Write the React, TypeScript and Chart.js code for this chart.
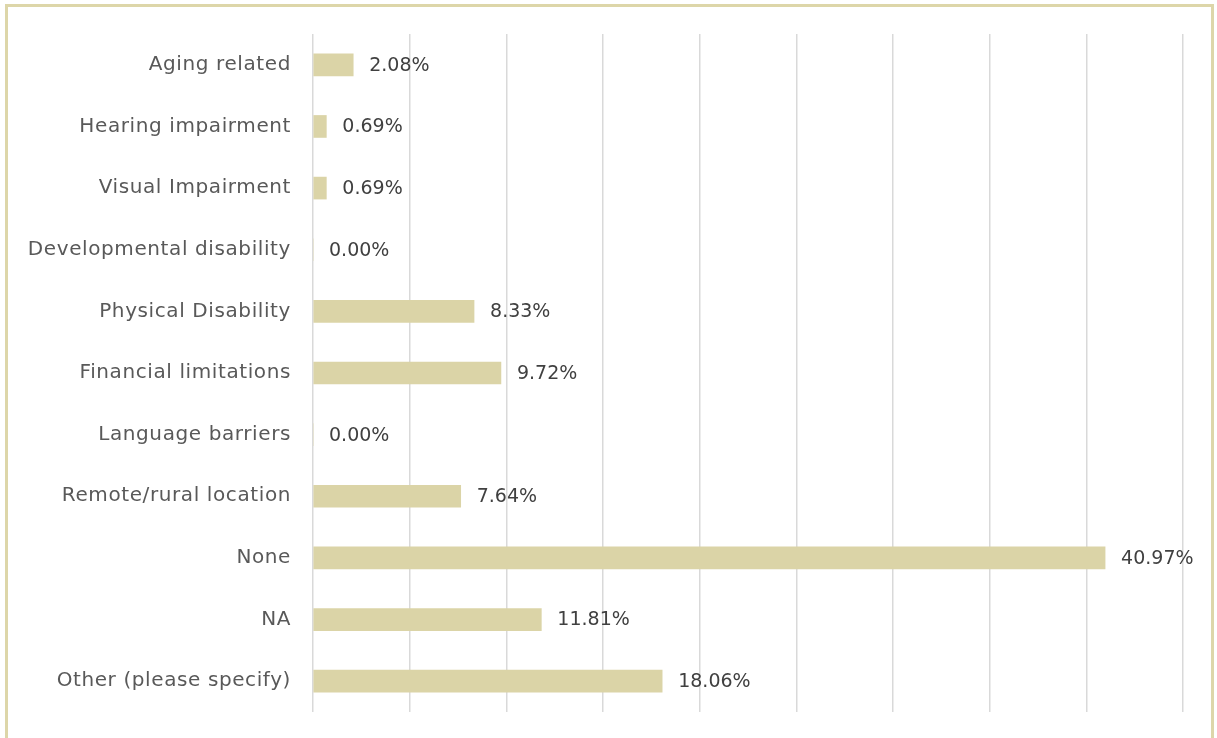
import React, { useEffect, useRef } from "react";
import { Chart, registerables } from "chart.js";

Chart.register(...registerables);

const categories = [
  "Aging related",
  "Hearing impairment",
  "Visual Impairment",
  "Developmental disability",
  "Physical Disability",
  "Financial limitations",
  "Language barriers",
  "Remote/rural location",
  "None",
  "NA",
  "Other (please specify)",
];
const values = [2.08, 0.69, 0.69, 0.0, 8.33, 9.72, 0.0, 7.64, 40.97, 11.81, 18.06];
const xMax = 45;
const xStep = 5;

const FONT = "'DejaVu Sans', 'Open Sans', sans-serif";

const spacingPlugin = {
  id: "spacing",
  beforeDraw(chart: any) {
    chart.ctx.letterSpacing = "0.6px";
  },
  afterDraw(chart: any) {
    chart.ctx.letterSpacing = "0px";
  },
};

const labelPlugin = {
  id: "barLabels",
  afterDatasetsDraw(chart: any) {
    const ctx = chart.ctx;
    const meta = chart.getDatasetMeta(0);
    ctx.save();
    ctx.letterSpacing = "0px";
    ctx.font = `19px ${FONT}`;
    ctx.fillStyle = "#404040";
    ctx.textAlign = "left";
    ctx.textBaseline = "middle";
    meta.data.forEach((bar: any, i: number) => {
      ctx.fillText(values[i].toFixed(2) + "%", bar.x + 16, bar.y + 1);
    });
    ctx.restore();
  },
};

export default function App() {
  const ref = useRef<HTMLCanvasElement | null>(null);
  useEffect(() => {
    if (!ref.current) return;
    const chart = new Chart(ref.current, {
      type: "bar",
      data: {
        labels: categories,
        datasets: [
          {
            data: values,
            backgroundColor: "#DBD4A7",
            barThickness: 22,
          },
        ],
      },
      options: {
        indexAxis: "y",
        animation: false,
        responsive: false,
        maintainAspectRatio: false,
        layout: { padding: { top: 34, bottom: 26, right: 34, left: 0 } },
        plugins: { legend: { display: false }, tooltip: { enabled: false } },
        scales: {
          x: {
            min: 0,
            max: xMax,
            ticks: { display: false, stepSize: xStep },
            grid: { color: "#D9D9D9", lineWidth: 1.5, drawTicks: false },
            border: { display: false },
            afterFit(scale: any) {
              scale.height = 0;
            },
          },
          y: {
            ticks: {
              color: "#595959",
              font: { family: FONT, size: 20 },
              padding: 22,
            },
            grid: { display: false, drawTicks: false },
            border: { display: false },
            afterFit(scale: any) {
              scale.width = 313;
              scale.paddingTop = 0;
              scale.paddingBottom = 0;
            },
          },
        },
      },
      plugins: [spacingPlugin, labelPlugin],
    });
    return () => chart.destroy();
  }, []);
  return (
    <div style={{ position: "fixed", left: 0, top: 0, width: 1217, height: 738, background: "#fff", overflow: "hidden" }}>
      <canvas ref={ref} width={1217} height={738} style={{ position: "absolute", left: 0, top: 0 }} />
      <div
        style={{
          position: "absolute",
          left: 5,
          top: 4,
          width: 1209,
          height: 760,
          border: "3px solid #DDD6A9",
          boxSizing: "border-box",
          pointerEvents: "none",
        }}
      />
    </div>
  );
}
